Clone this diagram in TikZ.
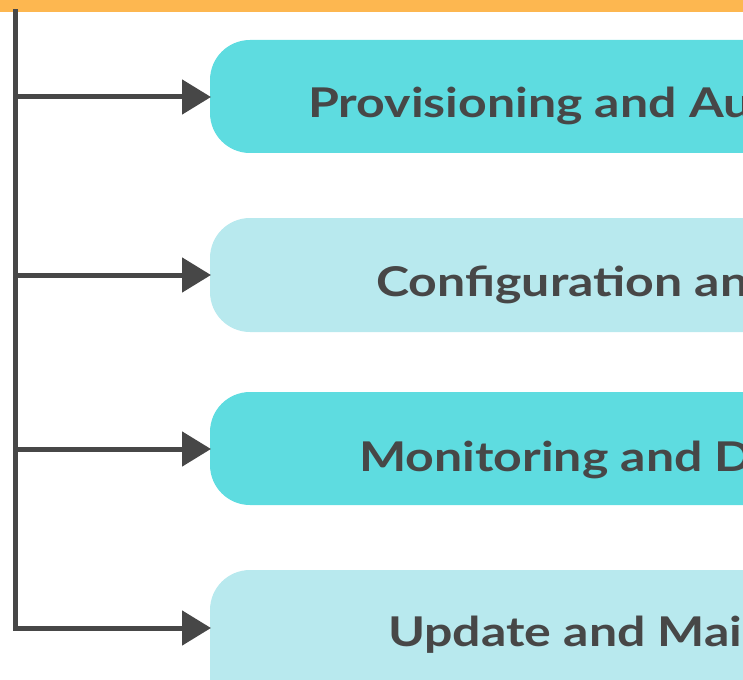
\documentclass[tikz,border=0pt]{standalone}
\usepackage{fontspec}
\setmainfont{Lato}
\newfontfamily\lblfont{Lato Bold}[FakeStretch=1.22]
\usetikzlibrary{arrows.meta}
\definecolor{barorange}{HTML}{FDB750}
\definecolor{darkcyan}{HTML}{5EDCE0}
\definecolor{lightcyan}{HTML}{B8E9EE}
\definecolor{ink}{HTML}{474747}
\tikzset{
  stagebox/.style={rounded corners=40pt, draw=none},
  conn/.style={draw=ink, line width=5pt, -{Triangle[length=29pt,width=34pt]}},
  trunk/.style={draw=ink, line width=5pt, line cap=rect},
  lbl/.style={anchor=base west, inner sep=0pt, text=ink, font=\lblfont\fontsize{41}{50}\selectfont},
}
\begin{document}
\begin{tikzpicture}[x=1pt,y=-1pt]
\useasboundingbox (0,0) rectangle (743,679);
\clip (0,0) rectangle (743,679);
\fill[barorange] (0,-5) rectangle (743,12);
\fill[stagebox, fill=darkcyan] (210,40) rectangle (900,153);
\fill[stagebox, fill=lightcyan] (210,218) rectangle (900,332);
\fill[stagebox, fill=darkcyan] (210,392) rectangle (900,505);
\fill[stagebox, fill=lightcyan] (210,570) rectangle (900,720);
\coordinate (top) at (15,12);
\coordinate (j1) at (15,97);
\coordinate (j2) at (15,275);
\coordinate (j3) at (15,449);
\coordinate (j4) at (15,628);
\coordinate (b1) at (211,97);
\coordinate (b2) at (211,275);
\coordinate (b3) at (211,449);
\coordinate (b4) at (211,628);
\draw[trunk] (top) -- (j4);
\draw[conn] (j1) -- (b1);
\draw[conn] (j2) -- (b2);
\draw[conn] (j3) -- (b3);
\draw[conn] (j4) -- (b4);
\node[lbl] (t1) at (308,118) {Provisioning and Au};
\node[lbl] (t2) at (376,296) {Configuration an};
\node[lbl] (t3) at (359,471) {Monitoring and D};
\node[lbl] (t4) at (388,646) {Update and Mai};
\end{tikzpicture}
\end{document}
